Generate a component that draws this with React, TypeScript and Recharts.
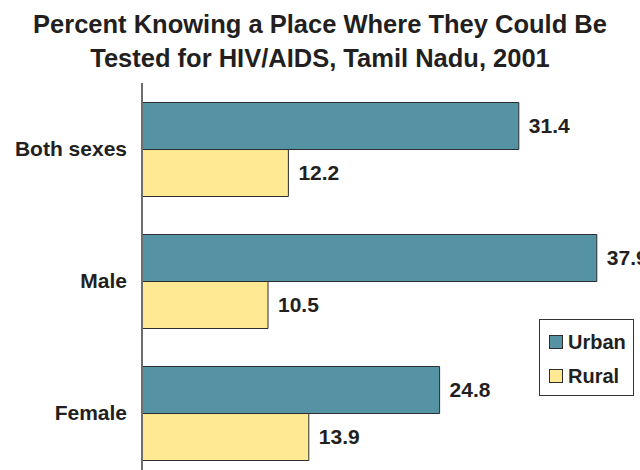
import React from 'react';
import { BarChart, Bar, XAxis, YAxis, LabelList, Legend } from 'recharts';

// Survey groups and the share (%) who know where to get tested
const groups = ['Both sexes', 'Male', 'Female'];
const urban = [31.4, 37.9, 24.8];
const rural = [12.2, 10.5, 13.9];
const seriesOrder = ['Urban', 'Rural'];

const URBAN_COLOR = '#5593a4';
const RURAL_COLOR = '#ffe992';
const EDGE = '#2d2d2d';
const INK = '#231f20';
const FONT = '"Liberation Sans", Arial, Helvetica, sans-serif';

const data = groups.map((name, i) => ({ name, Urban: urban[i], Rural: rural[i] }));

const labelStyle = { fontSize: 21, fontWeight: 700, fill: INK, fontFamily: FONT };

// Boxed legend in the lower right, series kept in drawing order
const LegendBox = ({ payload }: any) => {
  const items = [...(payload || [])].sort(
    (a: any, b: any) => seriesOrder.indexOf(a.value) - seriesOrder.indexOf(b.value)
  );
  return (
    <div
      style={{
        width: 95,
        height: 77,
        border: '1px solid #333',
        background: '#fff',
        boxSizing: 'border-box',
        position: 'relative',
        fontFamily: FONT,
      }}
    >
      {items.map((p: any, i: number) => (
        <div
          key={p.value}
          style={{
            position: 'absolute',
            left: 9,
            top: 12 + i * 33.5,
            height: 20,
            display: 'flex',
            alignItems: 'center',
          }}
        >
          <span
            style={{
              width: 12,
              height: 12,
              background: p.color,
              border: `1px solid ${EDGE}`,
              marginRight: 5,
            }}
          />
          <span style={{ fontSize: 20, fontWeight: 700, color: INK, lineHeight: '20px' }}>{p.value}</span>
        </div>
      ))}
    </div>
  );
};

const App: React.FC = () => {
  return (
    <div
      style={{
        position: 'absolute',
        left: 0,
        top: 0,
        width: 640,
        height: 470,
        overflow: 'hidden',
        background: '#fff',
        fontFamily: FONT,
      }}
    >
      <div
        style={{
          position: 'absolute',
          left: 0,
          top: 7,
          width: 640,
          textAlign: 'center',
          fontSize: 25.5,
          fontWeight: 700,
          lineHeight: '34px',
          color: INK,
        }}
      >
        Percent Knowing a Place Where They Could Be
        <br />
        Tested for HIV/AIDS, Tamil Nadu, 2001
      </div>
      <div style={{ position: 'absolute', left: 0, top: 0 }}>
        <BarChart
          width={640}
          height={479}
          data={data}
          layout="vertical"
          margin={{ top: 83, right: 18, bottom: 0, left: 0 }}
          barCategoryGap={19.5}
          barGap={0}
        >
          <XAxis type="number" domain={[0, 40]} hide />
          <YAxis
            type="category"
            dataKey="name"
            width={142}
            axisLine={{ stroke: '#6d6d6d', strokeWidth: 2 }}
            tickLine={false}
            tickSize={0}
            tickMargin={15}
            tick={labelStyle}
          />
          <Legend
            layout="horizontal"
            verticalAlign="middle"
            align="center"
            content={<LegendBox />}
            wrapperStyle={{ left: 539, top: 319, width: 95, height: 77 }}
          />
          <Bar dataKey="Urban" fill={URBAN_COLOR} stroke={EDGE} strokeWidth={1} isAnimationActive={false}>
            <LabelList dataKey="Urban" position="right" offset={10} style={labelStyle} />
          </Bar>
          <Bar dataKey="Rural" fill={RURAL_COLOR} stroke={EDGE} strokeWidth={1} isAnimationActive={false}>
            <LabelList dataKey="Rural" position="right" offset={10} style={labelStyle} />
          </Bar>
        </BarChart>
      </div>
    </div>
  );
};

export default App;
